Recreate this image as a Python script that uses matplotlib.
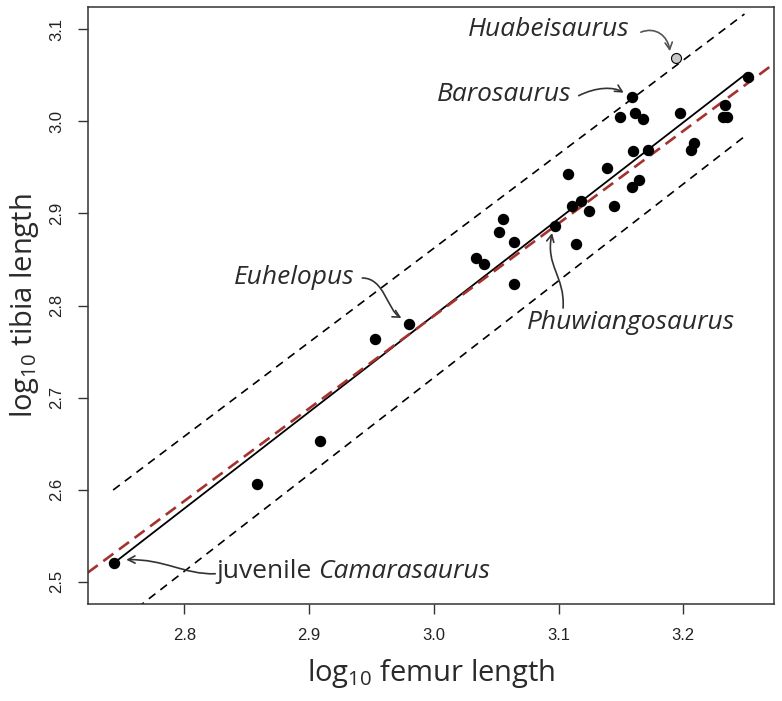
import numpy as np
import matplotlib.pyplot as plt
from matplotlib import font_manager
from matplotlib.patches import FancyArrowPatch
from matplotlib.path import Path
from matplotlib.transforms import IdentityTransform

plt.rcParams['lines.scale_dashes'] = False
plt.rcParams['mathtext.fontset'] = 'custom'
plt.rcParams['mathtext.rm'] = 'Open Sans'

names = {f.name for f in font_manager.fontManager.ttflist}
tick_family = 'Liberation Sans Narrow' if 'Liberation Sans Narrow' in names else 'Liberation Sans'
tick_size = 14 if tick_family == 'Liberation Sans Narrow' else 12

# log10 femur / tibia lengths
femur = [2.7439, 2.8583, 2.9088, 2.9529, 2.9804, 3.0336, 3.0400, 3.0525,
         3.0552, 3.0645, 3.0645, 3.0972, 3.1105, 3.1178, 3.1244, 3.1140,
         3.1447, 3.1591, 3.1647, 3.1073, 3.1386, 3.1594, 3.1720, 3.1495,
         3.1613, 3.1675, 3.1586, 3.1976, 3.2059, 3.2086, 3.2321, 3.2348,
         3.2334, 3.2521]
tibia = [2.5206, 2.6061, 2.6532, 2.7639, 2.7799, 2.8519, 2.8450, 2.8801,
         2.8940, 2.8693, 2.8233, 2.8863, 2.9084, 2.9138, 2.9030, 2.8665,
         2.9084, 2.9290, 2.9363, 2.9428, 2.9497, 2.9681, 2.9689, 3.0044,
         3.0087, 3.0025, 3.0268, 3.0087, 2.9689, 2.9761, 3.0044, 3.0044,
         3.0174, 3.0478]
huabei_x, huabei_y = 3.194, 3.0686

# regression line, prediction bounds and reference line
fit_x = [2.7439, 3.2508]
fit_y = [2.5206, 3.0522]
upper_x = [2.7430, 3.2490]
upper_y = [2.5996, 3.1166]
lower_x = [2.7439, 3.2516]
lower_y = [2.4523, 2.9863]
ref_x = [2.7226, 3.2694]
ref_y = [2.5098, 3.0594]

xticks = [2.8, 2.9, 3.0, 3.1, 3.2]
yticks = [2.5, 2.6, 2.7, 2.8, 2.9, 3.0, 3.1]

W, H = 782, 701
fig = plt.figure(figsize=(W / 100, H / 100), dpi=100)
ax = fig.add_axes([87.7 / W, 1 - 604 / H, (774.3 - 87.7) / W, (604 - 7) / H])
ax.set_xlim(2.7226, 3.2729)
ax.set_ylim(2.4758, 3.1242)

ax.plot(upper_x, upper_y, color='k', lw=1.2, ls=(0, (6, 4.5)))
ax.plot(lower_x, lower_y, color='k', lw=1.2, ls=(0, (6, 4.5)))
ax.plot(fit_x, fit_y, color='k', lw=1.3)
ax.axline((ref_x[0], ref_y[0]), (ref_x[1], ref_y[1]), color='#a5322e',
          lw=1.9, ls=(0, (9, 5)))
ax.plot(femur, tibia, 'o', color='k', ms=7.2, zorder=5)
ax.plot([huabei_x], [huabei_y], 'o', mfc='#c8c8c8', mec='k', mew=0.8,
        ms=7.2, zorder=5)

ax.set_xticks(xticks)
ax.set_yticks(yticks)
ax.set_xticklabels(['%.1f' % v for v in xticks])
ax.set_yticklabels(['%.1f' % v for v in yticks], rotation=90, va='center')
ax.tick_params(direction='out', length=7.5, width=1.0, color='#333333',
               labelsize=tick_size, labelcolor='#222222')
ax.tick_params(axis='x', pad=10)
ax.tick_params(axis='y', pad=9.5)
for t in ax.get_xticklabels() + ax.get_yticklabels():
    t.set_fontfamily(tick_family)
for s in ax.spines.values():
    s.set_linewidth(1.1)
    s.set_color('#333333')

lab_font = dict(family='Open Sans', size=21, color='#2a2a2a')
ax.set_xlabel(r'log$_{10}$ femur length', labelpad=10, **lab_font)
ax.set_ylabel(r'log$_{10}$ tibia length', labelpad=6, **lab_font)

ann_font = dict(family='Open Sans', size=19, color='#2a2a2a')


def px(x, y):
    return ax.transData.transform((x, y))


def label(x, y, txt, dx, dy, ha, style='italic'):
    p = px(x, y)
    fig.text(p[0] + dx, p[1] - dy, txt, transform=IdentityTransform(),
             ha=ha, va='center', style=style, **ann_font)


def arrow(x, y, pts, color='#333333'):
    # pts: start, ctrl1, ctrl2, end as pixel offsets (y down) from the point
    p = px(x, y)
    verts = [(p[0] + a, p[1] - b) for a, b in pts]
    path = Path(verts, [Path.MOVETO, Path.CURVE4, Path.CURVE4, Path.CURVE4])
    fig.add_artist(FancyArrowPatch(path=path,
                                   arrowstyle='->,head_length=5,head_width=2.6',
                                   color=color, lw=1.2,
                                   transform=IdentityTransform()))


# Huabeisaurus
label(huabei_x, huabei_y, 'Huabeisaurus', -46, -29, 'right')
arrow(huabei_x, huabei_y, [(-35, -26), (-20, -32), (-8, -22), (-6, -7)], '#555555')
# Barosaurus
label(femur[26], tibia[26], 'Barosaurus', -60, -2, 'right')
arrow(femur[26], tibia[26], [(-53, -1), (-35, -10), (-18, -10), (-8, -4)])
# Euhelopus
label(femur[4], tibia[4], 'Euhelopus', -55, -47, 'right')
arrow(femur[4], tibia[4], [(-47, -46), (-25, -46), (-22, -14), (-8, -6)])
# Phuwiangosaurus
label(femur[11], tibia[11], 'Phuwiangosaurus', -28, 96, 'left')
arrow(femur[11], tibia[11], [(8, 82), (10, 50), (-10, 40), (-3, 7)])
# juvenile Camarasaurus
p = px(femur[0], tibia[0])
t1 = fig.text(p[0] + 102, p[1] - 9, 'juvenile ', transform=IdentityTransform(),
              ha='left', va='center', **ann_font)
fig.canvas.draw()
bb = t1.get_window_extent()
fig.text(bb.x1, p[1] - 9, 'Camarasaurus', transform=IdentityTransform(),
         ha='left', va='center', style='italic', **ann_font)
arrow(femur[0], tibia[0], [(101, 11), (70, 12), (50, -4), (12, -3)])

fig.savefig('out.png', dpi=100)
